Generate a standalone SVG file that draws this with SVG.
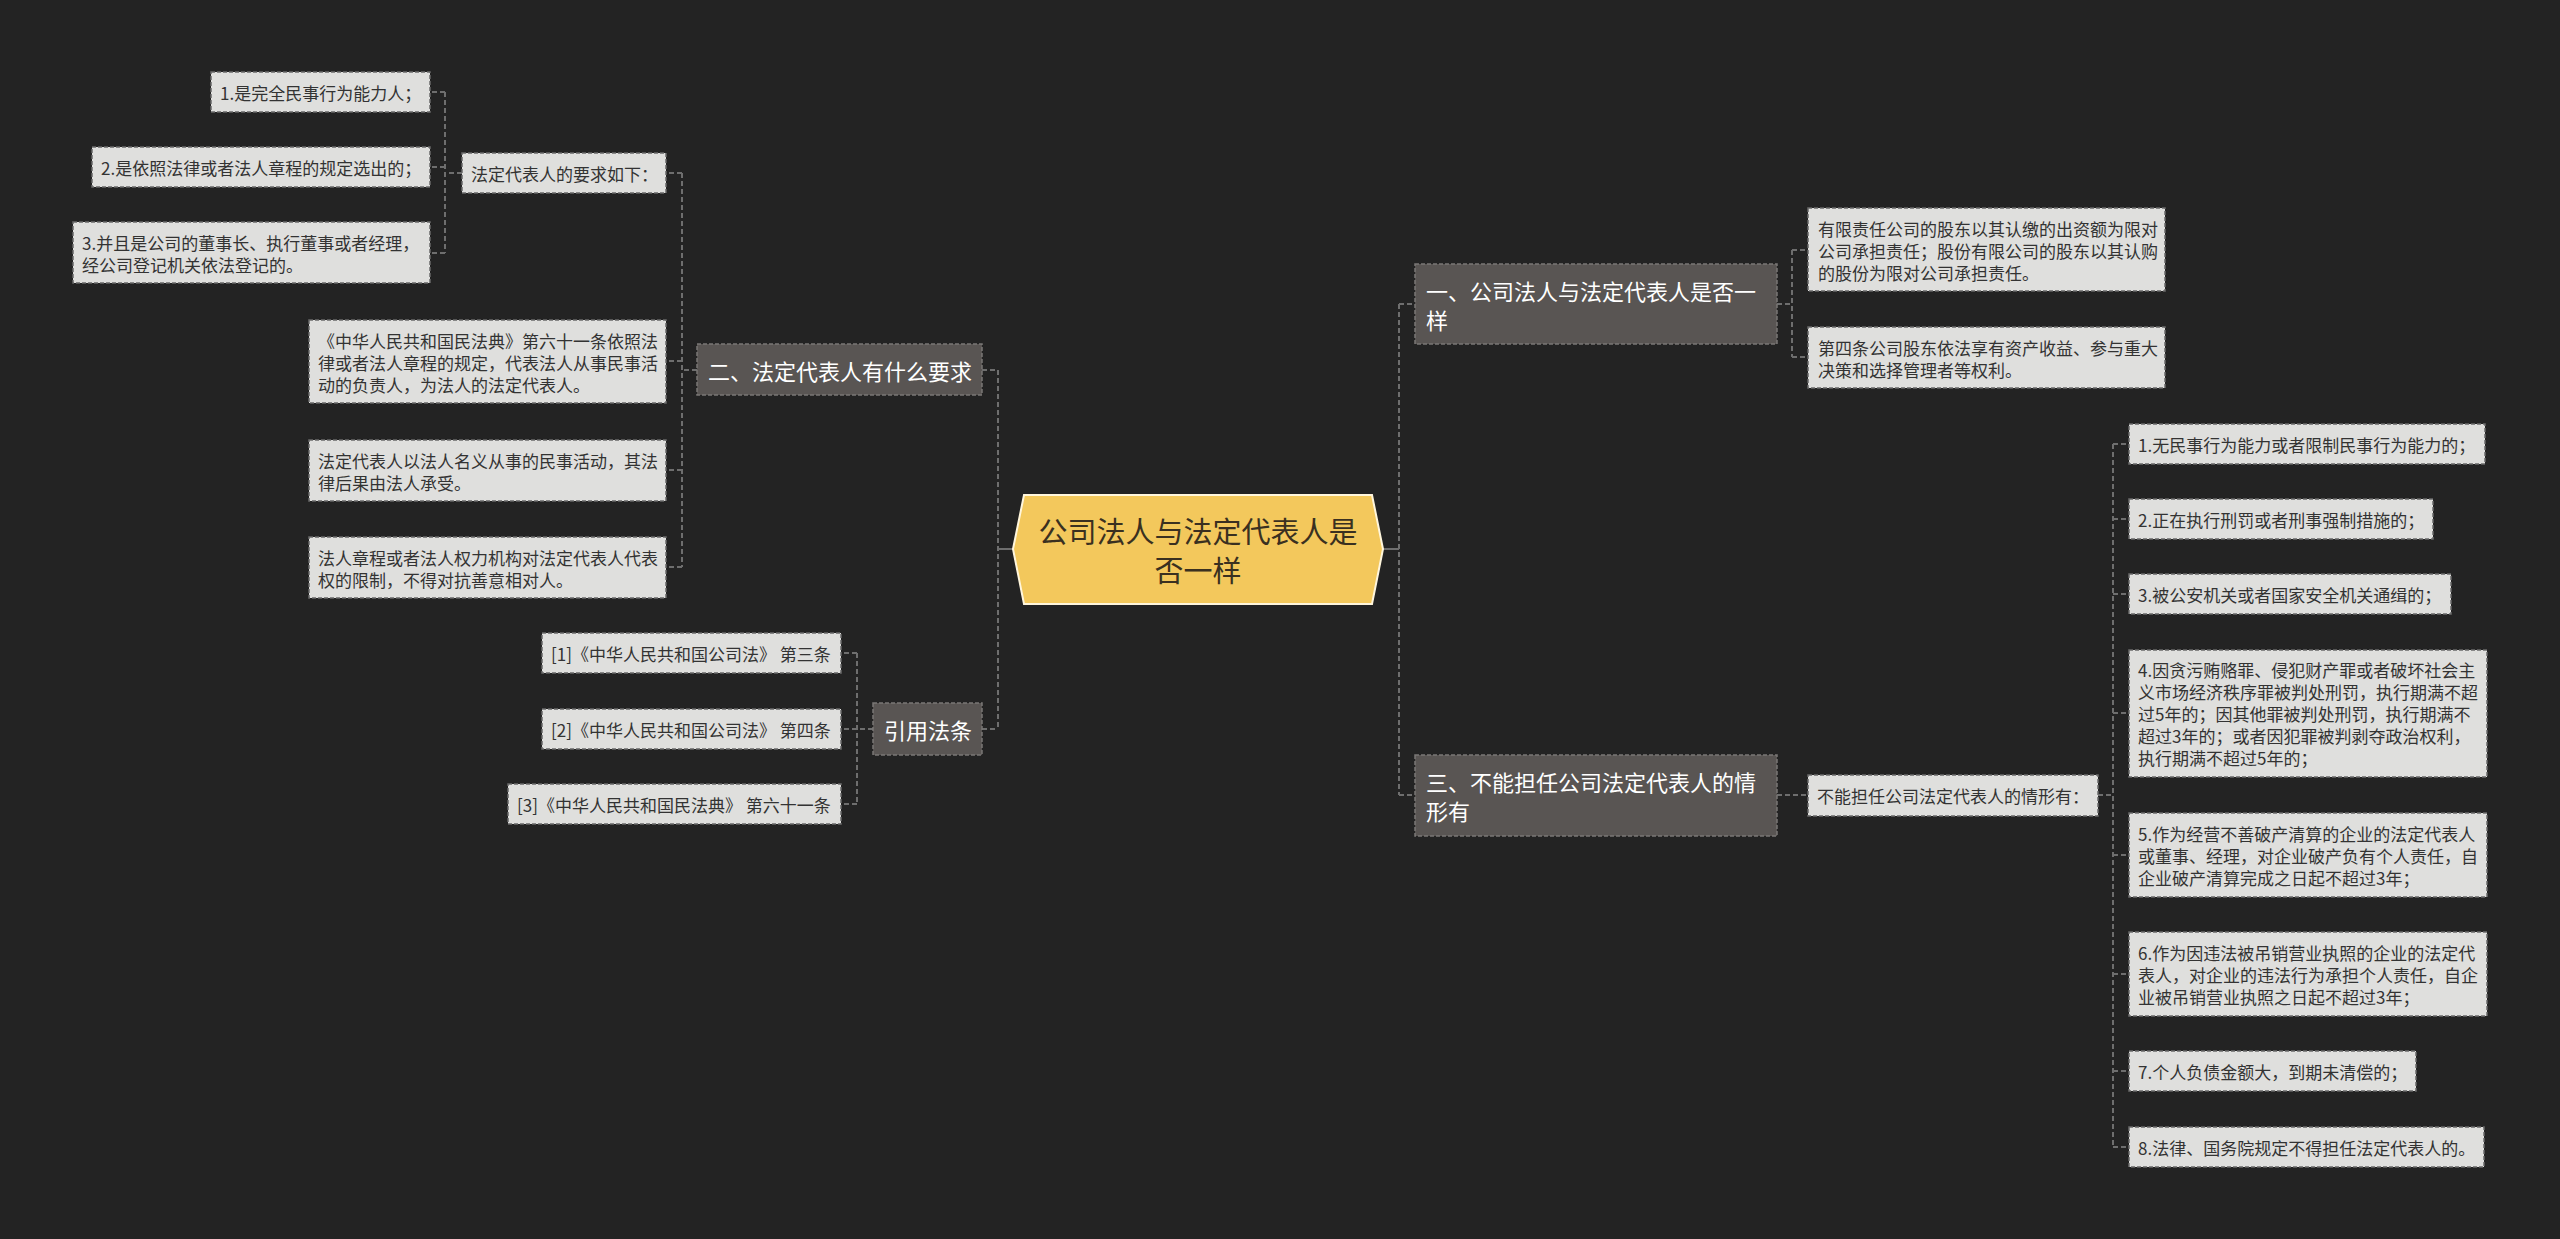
<svg xmlns="http://www.w3.org/2000/svg" width="2560" height="1239" viewBox="0 0 2560 1239">
<style>
.bg{fill:#232323}
.lt rect{fill:#dfdfdd;stroke:#6a6a6a;stroke-width:1.5;stroke-dasharray:4 2}
.lt text{font-family:"Noto Sans CJK SC","Microsoft YaHei",sans-serif;font-size:17px;fill:#333;dominant-baseline:central}
.dk rect{fill:#595553;stroke:#7a7775;stroke-width:1.5;stroke-dasharray:4 2}
.dk text{font-family:"Noto Sans CJK SC","Microsoft YaHei",sans-serif;font-size:22px;fill:#fff;dominant-baseline:central}
.ct polygon{fill:#f3c85c;stroke:#fff6dc;stroke-width:2}
.ct text{font-family:"Noto Sans CJK SC","Microsoft YaHei",sans-serif;font-size:29px;fill:#3a3020;dominant-baseline:central;text-anchor:middle}
.cn path{fill:none;stroke:#6e6e6e;stroke-width:2;stroke-dasharray:5 3}
.cn .solid{stroke-dasharray:none}
</style>
<rect class="bg" x="0" y="0" width="2560" height="1239"/>

<g id="connectors" class="cn">
  <path class="solid" d="M1013 549H998"/>
  <path class="solid" d="M1383 549H1399"/>
  <path d="M998 370V729"/>
  <path d="M1399 304V795"/>
  <path d="M982 370H998M982 729H998"/>
  <path d="M1399 304H1415M1399 795H1415"/>
  <!-- 二 -->
  <path d="M697 370H682M682 173V567M682 173H666M682 361H666M682 470H666M682 567H666"/>
  <!-- 法定代表人的要求如下 -->
  <path d="M462 173H445M445 92V253M445 92H430M445 167H430M445 253H430"/>
  <!-- 引用法条 -->
  <path d="M873 729H857M857 653V804M857 653H841M857 729H841M857 804H841"/>
  <!-- 一 -->
  <path d="M1777 304H1792M1792 250V357M1792 250H1808M1792 357H1808"/>
  <!-- 三 -->
  <path d="M1777 795H1808"/>
  <path d="M2098 795H2113M2113 444V1147M2113 444H2129M2113 519H2129M2113 594H2129M2113 713H2129M2113 855H2129M2113 974H2129M2113 1071H2129M2113 1147H2129"/>
</g>

<g id="center" class="ct">
  <polygon points="1013,549 1024,495 1372,495 1383,549 1372,604 1024,604"/>
  <text x="1198" y="530">公司法人与法定代表人是</text>
  <text x="1198" y="569">否一样</text>
</g>

<g id="n2" class="dk">
  <rect x="697" y="344" width="285" height="51"/>
  <text x="708" y="370">二、法定代表人有什么要求</text>
</g>
<g id="n2-req" class="lt">
  <rect x="462" y="153" width="204" height="40"/>
  <text x="471" y="173">法定代表人的要求如下：</text>
</g>
<g id="n2-req-1" class="lt">
  <rect x="211" y="72" width="219" height="40"/>
  <text x="220" y="92">1.是完全民事行为能力人；</text>
</g>
<g id="n2-req-2" class="lt">
  <rect x="92" y="147" width="338" height="40"/>
  <text x="101" y="167">2.是依照法律或者法人章程的规定选出的；</text>
</g>
<g id="n2-req-3" class="lt">
  <rect x="73" y="222" width="357" height="61"/>
  <text x="82" y="242">3.并且是公司的董事长、执行董事或者经理，</text>
  <text x="82" y="264">经公司登记机关依法登记的。</text>
</g>
<g id="n2-civil" class="lt">
  <rect x="309" y="320" width="357" height="83"/>
  <text x="318" y="340">《中华人民共和国民法典》第六十一条依照法</text>
  <text x="318" y="362">律或者法人章程的规定，代表法人从事民事活</text>
  <text x="318" y="384">动的负责人，为法人的法定代表人。</text>
</g>
<g id="n2-effect" class="lt">
  <rect x="309" y="440" width="357" height="61"/>
  <text x="318" y="460">法定代表人以法人名义从事的民事活动，其法</text>
  <text x="318" y="482">律后果由法人承受。</text>
</g>
<g id="n2-limit" class="lt">
  <rect x="309" y="537" width="357" height="61"/>
  <text x="318" y="557">法人章程或者法人权力机构对法定代表人代表</text>
  <text x="318" y="579">权的限制，不得对抗善意相对人。</text>
</g>

<g id="ref" class="dk">
  <rect x="873" y="703" width="109" height="52"/>
  <text x="884" y="729">引用法条</text>
</g>
<g id="ref-1" class="lt">
  <rect x="542" y="633" width="299" height="40"/>
  <text x="551" y="653">[1]《中华人民共和国公司法》 第三条</text>
</g>
<g id="ref-2" class="lt">
  <rect x="542" y="709" width="299" height="40"/>
  <text x="551" y="729">[2]《中华人民共和国公司法》 第四条</text>
</g>
<g id="ref-3" class="lt">
  <rect x="508" y="784" width="333" height="40"/>
  <text x="517" y="804">[3]《中华人民共和国民法典》 第六十一条</text>
</g>

<g id="n1" class="dk">
  <rect x="1415" y="264" width="362" height="80"/>
  <text x="1426" y="289.5">一、公司法人与法定代表人是否一</text>
  <text x="1426" y="318.5">样</text>
</g>
<g id="n1-a" class="lt">
  <rect x="1808" y="208" width="357" height="83"/>
  <text x="1818" y="228">有限责任公司的股东以其认缴的出资额为限对</text>
  <text x="1818" y="250">公司承担责任；股份有限公司的股东以其认购</text>
  <text x="1818" y="272">的股份为限对公司承担责任。</text>
</g>
<g id="n1-b" class="lt">
  <rect x="1808" y="327" width="357" height="61"/>
  <text x="1818" y="347">第四条公司股东依法享有资产收益、参与重大</text>
  <text x="1818" y="369">决策和选择管理者等权利。</text>
</g>

<g id="n3" class="dk">
  <rect x="1415" y="755" width="362" height="81"/>
  <text x="1426" y="781">三、不能担任公司法定代表人的情</text>
  <text x="1426" y="810">形有</text>
</g>
<g id="n3-a" class="lt">
  <rect x="1808" y="775" width="290" height="41"/>
  <text x="1817" y="795">不能担任公司法定代表人的情形有：</text>
</g>
<g id="n3-1" class="lt">
  <rect x="2129" y="424" width="356" height="40"/>
  <text x="2138" y="444">1.无民事行为能力或者限制民事行为能力的；</text>
</g>
<g id="n3-2" class="lt">
  <rect x="2129" y="499" width="304" height="40"/>
  <text x="2138" y="519">2.正在执行刑罚或者刑事强制措施的；</text>
</g>
<g id="n3-3" class="lt">
  <rect x="2129" y="574" width="322" height="40"/>
  <text x="2138" y="594">3.被公安机关或者国家安全机关通缉的；</text>
</g>
<g id="n3-4" class="lt">
  <rect x="2129" y="650" width="358" height="127"/>
  <text x="2138" y="669.5">4.因贪污贿赂罪、侵犯财产罪或者破坏社会主</text>
  <text x="2138" y="691.5">义市场经济秩序罪被判处刑罚，执行期满不超</text>
  <text x="2138" y="713.5">过5年的；因其他罪被判处刑罚，执行期满不</text>
  <text x="2138" y="735.5">超过3年的；或者因犯罪被判剥夺政治权利，</text>
  <text x="2138" y="757.5">执行期满不超过5年的；</text>
</g>
<g id="n3-5" class="lt">
  <rect x="2129" y="813" width="358" height="84"/>
  <text x="2138" y="833">5.作为经营不善破产清算的企业的法定代表人</text>
  <text x="2138" y="855">或董事、经理，对企业破产负有个人责任，自</text>
  <text x="2138" y="877">企业破产清算完成之日起不超过3年；</text>
</g>
<g id="n3-6" class="lt">
  <rect x="2129" y="932" width="358" height="84"/>
  <text x="2138" y="952">6.作为因违法被吊销营业执照的企业的法定代</text>
  <text x="2138" y="974">表人，对企业的违法行为承担个人责任，自企</text>
  <text x="2138" y="996">业被吊销营业执照之日起不超过3年；</text>
</g>
<g id="n3-7" class="lt">
  <rect x="2129" y="1051" width="287" height="40"/>
  <text x="2138" y="1071">7.个人负债金额大，到期未清偿的；</text>
</g>
<g id="n3-8" class="lt">
  <rect x="2129" y="1127" width="355" height="40"/>
  <text x="2138" y="1147">8.法律、国务院规定不得担任法定代表人的。</text>
</g>
</svg>
